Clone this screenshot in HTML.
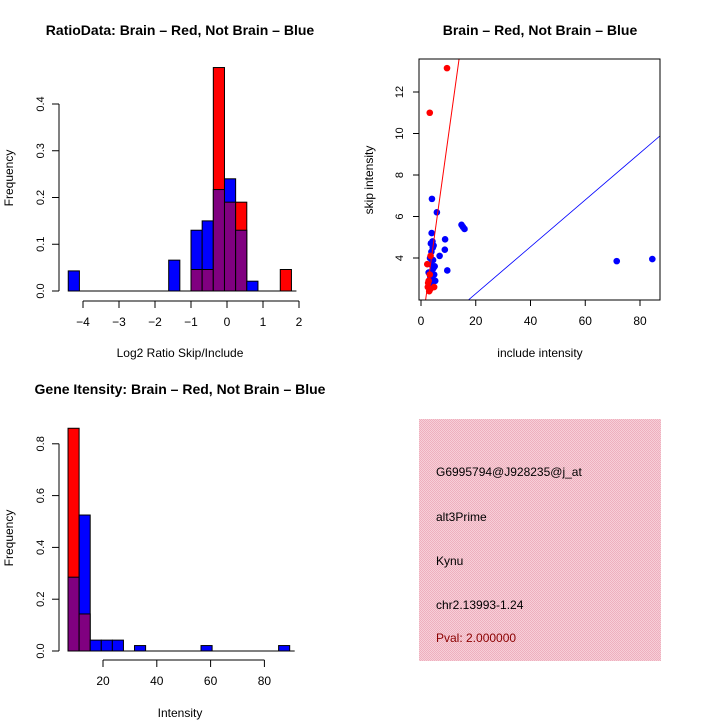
<!DOCTYPE html>
<html><head><meta charset="utf-8"><style>
body{margin:0;background:#fff;}
svg text{font-family:"Liberation Sans",sans-serif;fill:#000;}
</style></head><body>
<svg id="s" width="720" height="720" xmlns="http://www.w3.org/2000/svg">
<defs><pattern id="hatch" width="2" height="2" patternUnits="userSpaceOnUse"><rect width="2" height="2" fill="#f7cfd8"/><rect width="1" height="1" fill="#eeb0be"/><rect x="1" y="1" width="1" height="1" fill="#eeb0be"/></pattern></defs>
</svg>
<script>
// ---- Ratio histogram data ----
const ratioBinStart=-4.41, ratioBinWidth=0.31;
const ratioBlue=[0.043,0,0,0,0,0,0,0,0,0.066,0,0.13,0.15,0.217,0.24,0.13,0.021,0,0,0];
const ratioRed =[0,0,0,0,0,0,0,0,0,0,0,0.046,0.046,0.478,0.19,0.19,0,0,0,0.046];
const ratioXTicks=[-4,-3,-2,-1,0,1,2];
const ratioYTicks=[0,0.1,0.2,0.3,0.4];
// ---- Scatter data ----
const redX=[9.5,3.2,2.3,3.0,3.4,2.8,3.5,2.5,4.8,3.2,2.6];
const redY=[13.15,11.0,3.7,2.4,2.5,2.9,4.1,2.6,2.6,3.2,2.8];
const blueX=[4.0,5.8,14.8,15.3,15.9,8.8,8.7,6.8,9.6,71.5,84.5,3.9,3.6,4.2,4.6,3.3,3.8,4.4,5.0,3.1,4.1,3.7,5.2,4.5,3.4,4.0,4.8,3.5,2.8,4.3];
const blueY=[6.85,6.2,5.6,5.5,5.4,4.9,4.4,4.1,3.4,3.85,3.95,5.2,4.7,4.8,4.6,4.0,4.3,3.9,3.6,3.3,3.0,2.8,2.9,3.5,3.1,2.7,3.2,3.7,3.3,4.5];
const redLine=[1.7,0.95,0.38]; // x0, slope, intercept: y=slope*x+intercept
const blueLine=[0.113,0.02];
const scXTicks=[0,20,40,60,80];
const scYTicks=[4,6,8,10,12];
// ---- Intensity histogram data ----
const intBinStart=7, intBinWidth=4.12;
const intBlue=[0.285,0.525,0.042,0.042,0.042,0,0.021,0,0,0,0,0,0.021,0,0,0,0,0,0,0.021];
const intRed =[0.86,0.143,0,0,0,0,0,0,0,0,0,0,0,0,0,0,0,0,0,0];
const intXTicks=[20,40,60,80];
const intYTicks=[0,0.2,0.4,0.6,0.8];

const S=document.getElementById('s'),NS='http://www.w3.org/2000/svg';
function mk(t,a,p){const e=document.createElementNS(NS,t);for(const k in a)e.setAttribute(k,a[k]);(p||S).appendChild(e);return e;}
function txt(x,y,s,a){const e=mk('text',Object.assign({x:x,y:y,'text-anchor':'middle','font-size':12},a||{}));e.textContent=s;return e;}

function hist(g,binStart,bw,red,blue,xs,ys,yTicks,xTicks,xLine){
  for(let i=0;i<red.length;i++){
    const r=red[i],b=blue[i];if(!r&&!b)continue;
    const x0=xs(binStart+i*bw),x1=xs(binStart+(i+1)*bw);
    const hi=Math.max(r,b),lo=Math.min(r,b);
    const bar=mk('rect',{x:x0,y:ys(hi),width:x1-x0,height:ys(0)-ys(hi),fill:r>b?'#ff0000':'#0000ff',stroke:'#000','stroke-width':1},g);
    
    
    if(lo>0){const p=mk('rect',{x:x0,y:ys(lo),width:x1-x0,height:ys(0)-ys(lo),fill:'#800080',stroke:'#000','stroke-width':1},g);
      
      }
  }
  mk('line',{x1:xs(binStart),x2:xs(binStart+bw*red.length)+5,y1:ys(0),y2:ys(0),stroke:'#000'},g);
  const ya=mk('g',{},g);
  
  
  mk('line',{x1:59,x2:59,y1:ys(yTicks[0]),y2:ys(yTicks[yTicks.length-1]),stroke:'#000'},ya);
  yTicks.forEach(v=>{mk('line',{x1:52,x2:59,y1:ys(v),y2:ys(v),stroke:'#000'},ya);
    txt(0,0,v.toFixed(1),{transform:`translate(44,${ys(v)}) rotate(-90)`,'font-size':11},ya);});
  const xa=mk('g',{},g);
  
  
  mk('line',{x1:xs(xTicks[0]),x2:xs(xTicks[xTicks.length-1]),y1:xLine,y2:xLine,stroke:'#000'},xa);
  xTicks.forEach(v=>{mk('line',{x1:xs(v),x2:xs(v),y1:xLine,y2:xLine+7,stroke:'#000'},xa);
    txt(xs(v),xLine+25,v<0?'\u2212'+(-v):String(v),{'font-size':12},xa);});
}

// Ratio histogram
let g1=mk('g',{});


hist(g1,ratioBinStart,ratioBinWidth,ratioRed,ratioBlue,v=>83+(v+4)*36,v=>291-v*467.5,ratioYTicks,ratioXTicks,301);
txt(180,35,'RatioData: Brain \u2013 Red, Not Brain \u2013 Blue',{'font-size':14,'font-weight':'bold'},g1);
txt(180,357,'Log2 Ratio Skip/Include',{'font-size':12},g1);
txt(0,0,'Frequency',{transform:'translate(13,178) rotate(-90)'},g1);

// Intensity histogram
let g3=mk('g',{});


hist(g3,intBinStart,intBinWidth,intRed,intBlue,v=>103+(v-20)*2.69,v=>651-v*259,intYTicks,intXTicks,660);
txt(180,394,'Gene Itensity: Brain \u2013 Red, Not Brain \u2013 Blue',{'font-size':14,'font-weight':'bold'},g3);
txt(180,717,'Intensity',{'font-size':12},g3);
txt(0,0,'Frequency',{transform:'translate(13,538) rotate(-90)'},g3);

// Scatter
let g2=mk('g',{});


const L=419,R=660,T=59,B=300;
const sx=v=>421+v*2.7375, sy=v=>258-(v-4)*20.75;
const xmin=(L-421)/2.7375,xmax=(R-421)/2.7375,ymin=4-(B-258)/20.75,ymax=4+(258-T)/20.75;
mk('defs',{},g2).innerHTML='<clipPath id="cp"><rect x="419" y="59" width="241" height="241"/></clipPath>';
const pl=mk('g',{'clip-path':'url(#cp)'},g2);
blueX.forEach((x,i)=>{const c=mk('circle',{cx:sx(x),cy:sy(blueY[i]),r:3.3,fill:'#0000ff'},pl);
  
  });
redX.forEach((x,i)=>{const c=mk('circle',{cx:sx(x),cy:sy(redY[i]),r:3.3,fill:'#ff0000'},pl);
  
  });
let rl=mk('line',{x1:sx(0),y1:sy(redLine[2]),x2:sx(20),y2:sy(redLine[1]*20+redLine[2]),stroke:'#ff0000'},pl);


let bl=mk('line',{x1:sx(0),y1:sy(blueLine[1]),x2:sx(100),y2:sy(blueLine[0]*100+blueLine[1]),stroke:'#0000ff','stroke-width':0.8},pl);


mk('rect',{x:L,y:T,width:R-L,height:B-T,fill:'none',stroke:'#000'},g2);
scXTicks.forEach(v=>{mk('line',{x1:sx(v),x2:sx(v),y1:B,y2:B+6,stroke:'#000'},g2);txt(sx(v),B+25,String(v),{},g2);});
scYTicks.forEach(v=>{mk('line',{x1:L-6,x2:L,y1:sy(v),y2:sy(v),stroke:'#000'},g2);txt(0,0,String(v),{transform:`translate(403,${sy(v)}) rotate(-90)`,'font-size':11},g2);});
txt(540,35,'Brain \u2013 Red, Not Brain \u2013 Blue',{'font-size':14,'font-weight':'bold'},g2);
txt(540,357,'include intensity',{},g2);
txt(0,0,'skip intensity',{transform:'translate(373,180) rotate(-90)'},g2);

// Info panel
let g4=mk('g',{});


mk('rect',{x:419,y:419,width:242,height:242,fill:'url(#hatch)'},g4);
const info=[['G6995794@J928235@j_at',476,'#000'],['alt3Prime',521,'#000'],['Kynu',565,'#000'],['chr2.13993-1.24',609,'#000'],['Pval: 2.000000',642,'#8b0000']];
info.forEach(r=>{const t=txt(436,r[1],r[0],{'text-anchor':'start',fill:r[2]},g4);t.setAttribute('fill',r[2]);t.style.fill=r[2];
  
  });
</script>
</body></html>
